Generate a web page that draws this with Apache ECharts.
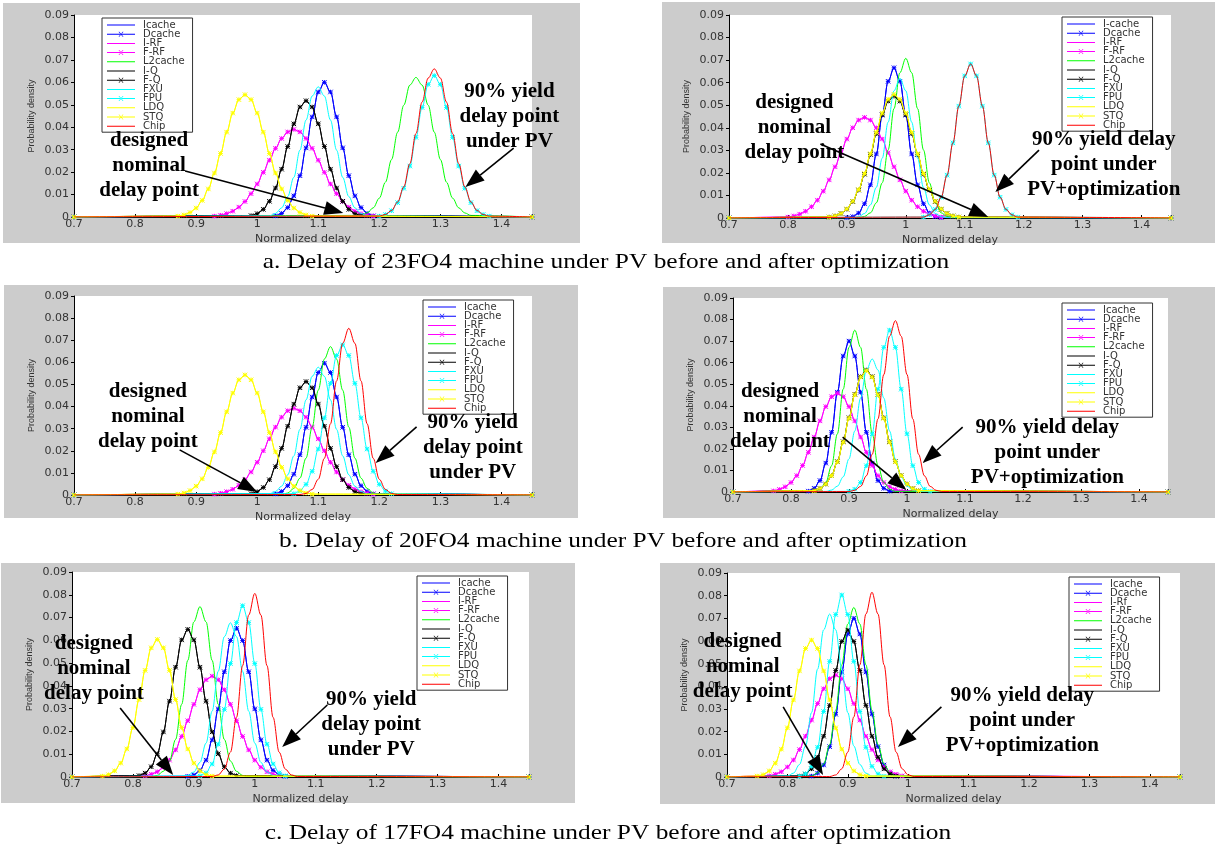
<!DOCTYPE html>
<html><head><meta charset="utf-8">
<script src="https://cdn.jsdelivr.net/npm/echarts@6/dist/echarts.min.js"></script>
<style>html,body{margin:0;padding:0;background:#fff}#c{width:1215px;height:853px}</style>
</head><body><div id="c"></div>
<script>
// ---------------- DATA ----------------
const components = ['Icache','Dcache','I-RF','F-RF','L2cache','I-Q','F-Q','FXU','FPU','LDQ','STQ','Chip'];
const legendA23Before = ['Icache','Dcache','I-RF','F-RF','L2cache','I-Q','F-Q','FXU','FPU','LDQ','STQ','Chip'];
const legendA23After  = ['I-cache','Dcache','I-RF','F-RF','L2cache','I-Q','F-Q','FXU','FPU','LDQ','STQ','Chip'];
const legendB20Before = ['Icache','Dcache','I-RF','F-RF','L2cache','I-Q','F-Q','FXU','FPU','LDQ','STQ','Chip'];
const legendB20After  = ['Icache','Dcache','I-RF','F-RF','L2cache','I-Q','F-Q','FXU','FPU','LDQ','STQ','Chip'];
const legendC17Before = ['Icache','Dcache','I-RF','F-RF','L2cache','I-Q','F-Q','FXU','FPU','LDQ','STQ','Chip'];
const legendC17After  = ['Icache','Dcache','I-Rf','F-RF','L2cache','I-Q','F-Q','FXU','FPU','LDQ','STQ','Chip'];

const delayMin = 0.7, delayMax = 1.45, delayTickStep = 0.1, sampleStep = 0.01;
const densityMax = 0.09, densityTickStep = 0.01;

// first sampled normalized delay of each component curve (same order as components)
const startA23Before = [1.03,1.03,0.93,0.93,1.17,0.99,0.99,1.02,1.20,0.87,0.87,1.20];
const startA23After  = [0.90,0.90,0.80,0.80,0.92,0.87,0.87,0.91,1.03,0.87,0.87,1.03];
const startB20Before = [1.03,1.03,0.93,0.93,1.04,0.99,0.99,1.02,1.06,0.87,0.87,1.07];
const startB20After  = [0.83,0.83,0.77,0.77,0.84,0.84,0.84,0.86,0.90,0.84,0.84,0.90];
const startC17Before = [0.89,0.89,0.82,0.82,0.83,0.81,0.81,0.88,0.91,0.75,0.75,0.93];
const startC17After  = [0.84,0.84,0.77,0.77,0.84,0.82,0.82,0.80,0.82,0.75,0.75,0.87];

// probability density (x 1e-4), sampled every 0.01 of normalized delay
const densA23Before = [
 [5,16,42,94,184,308,446,557,600,557,446,308,184,94,42,16,5],
 [5,16,42,94,184,308,446,557,600,557,446,308,184,94,42,16,5],
 [4,8,15,26,44,69,104,147,199,253,306,350,379,390,379,350,306,253,199,147,104,69,44,26,15,8,4],
 [4,8,15,26,44,69,104,147,199,253,306,350,379,390,379,350,306,253,199,147,104,69,44,26,15,8,4],
 [7,18,41,84,155,256,378,498,588,622,588,498,378,256,155,84,41,18,7],
 [6,15,34,70,129,213,314,415,490,518,490,415,314,213,129,70,34,15,6],
 [6,15,34,70,129,213,314,415,490,518,490,415,314,213,129,70,34,15,6],
 [5,16,41,91,177,298,432,539,580,539,432,298,177,91,41,16,5],
 [4,11,28,64,128,227,355,488,591,630,591,488,355,227,128,64,28,11,4],
 [4,9,20,40,74,125,196,283,378,463,523,545,523,463,378,283,196,125,74,40,20,9,4],
 [4,9,20,40,74,125,196,283,378,463,523,545,523,463,378,283,196,125,74,40,20,9,4],
 [4,11,29,67,134,238,372,512,619,660,619,512,372,238,134,67,29,11,4]
];
const densA23After = [
 [2,6,22,63,147,284,456,606,666,606,456,284,147,63,22,6,2],
 [2,6,22,63,147,284,456,606,666,606,456,284,147,63,22,6,2],
 [4,9,17,30,50,79,119,169,227,289,350,400,434,446,434,400,350,289,227,169,119,79,50,30,17,9,4],
 [4,9,17,30,50,79,119,169,227,289,350,400,434,446,434,400,350,289,227,169,119,79,50,30,17,9,4],
 [2,7,23,67,156,302,485,644,708,644,485,302,156,67,23,7,2],
 [4,9,20,39,73,124,194,281,374,458,518,540,518,458,374,281,194,124,73,39,20,9,4],
 [4,9,20,39,73,124,194,281,374,458,518,540,518,458,374,281,194,124,73,39,20,9,4],
 [1,6,20,58,136,265,425,564,620,564,425,265,136,58,20,6,1],
 [4,14,38,92,190,333,496,630,683,630,496,333,190,92,38,14,4],
 [4,9,20,40,74,126,197,285,380,465,526,548,526,465,380,285,197,126,74,40,20,9,4],
 [4,9,20,40,74,126,197,285,380,465,526,548,526,465,380,285,197,126,74,40,20,9,4],
 [4,14,38,92,190,333,496,630,683,630,496,333,190,92,38,14,4]
];
const densB20Before = [
 [5,16,42,94,182,306,443,554,596,554,443,306,182,94,42,16,5],
 [5,16,42,94,182,306,443,554,596,554,443,306,182,94,42,16,5],
 [4,8,15,26,44,69,104,148,200,254,307,352,381,392,381,352,307,254,200,148,104,69,44,26,15,8,4],
 [4,8,15,26,44,69,104,148,200,254,307,352,381,392,381,352,307,254,200,148,104,69,44,26,15,8,4],
 [3,9,30,76,167,307,474,615,671,615,474,307,167,76,30,9,3],
 [6,15,34,69,128,211,311,411,485,513,485,411,311,211,128,69,34,15,6],
 [6,15,34,69,128,211,311,411,485,513,485,411,311,211,128,69,34,15,6],
 [5,16,40,91,177,297,430,537,578,537,430,297,177,91,40,16,5],
 [6,18,48,107,208,349,505,631,679,631,505,349,208,107,48,18,6],
 [4,9,20,40,73,125,195,282,376,461,521,543,521,461,376,282,195,125,73,40,20,9,4],
 [4,9,20,40,73,125,195,282,376,461,521,543,521,461,376,282,195,125,73,40,20,9,4],
 [2,7,25,71,166,322,516,686,754,686,516,322,166,71,25,7,2]
];
const densB20After = [
 [4,17,53,134,277,463,631,700,631,463,277,134,53,17,4],
 [4,17,53,134,277,463,631,700,631,463,277,134,53,17,4],
 [5,12,24,44,76,123,184,255,330,396,442,458,442,396,330,255,184,123,76,44,24,12,5],
 [5,12,24,44,76,123,184,255,330,396,442,458,442,396,330,255,184,123,76,44,24,12,5],
 [3,13,44,122,270,477,671,751,671,477,270,122,44,13,3],
 [6,16,37,76,141,233,344,453,535,566,535,453,344,233,141,76,37,16,6],
 [6,16,37,76,141,233,344,453,535,566,535,453,344,233,141,76,37,16,6],
 [2,9,27,70,154,283,436,566,617,566,436,283,154,70,27,9,2],
 [3,13,44,122,270,477,671,751,671,477,270,122,44,13,3],
 [6,16,37,76,140,231,342,451,533,563,533,451,342,231,140,76,37,16,6],
 [6,16,37,76,140,231,342,451,533,563,533,451,342,231,140,76,37,16,6],
 [2,8,26,75,175,339,545,723,795,723,545,339,175,75,26,8,2]
];
const densC17Before = [
 [3,9,29,74,163,299,462,599,653,599,462,299,163,74,29,9,3],
 [3,9,29,74,163,299,462,599,653,599,462,299,163,74,29,9,3],
 [5,12,23,43,74,119,178,247,319,383,427,443,427,383,319,247,178,119,74,43,23,12,5],
 [5,12,23,43,74,119,178,247,319,383,427,443,427,383,319,247,178,119,74,43,23,12,5],
 [2,7,25,70,165,319,512,681,748,681,512,319,165,70,25,7,2],
 [6,17,45,102,198,333,482,602,648,602,482,333,198,102,45,17,6],
 [6,17,45,102,198,333,482,602,648,602,482,333,198,102,45,17,6],
 [2,7,22,64,149,289,464,616,677,616,464,289,149,64,22,7,2],
 [5,18,57,144,297,498,678,752,678,498,297,144,57,18,5],
 [4,10,27,61,123,217,340,468,567,604,567,468,340,217,123,61,27,10,4],
 [4,10,27,61,123,217,340,468,567,604,567,468,340,217,123,61,27,10,4],
 [2,9,35,109,262,489,711,806,711,489,262,109,35,9,2]
];
const densC17After = [
 [4,17,53,134,277,463,631,700,631,463,277,134,53,17,4],
 [4,17,53,134,277,463,631,700,631,463,277,134,53,17,4],
 [5,12,23,44,75,121,180,251,324,389,434,450,434,389,324,251,180,121,75,44,23,12,5],
 [5,12,23,44,75,121,180,251,324,389,434,450,434,389,324,251,180,121,75,44,23,12,5],
 [4,18,57,143,295,495,675,748,675,495,295,143,57,18,4],
 [4,13,36,87,180,316,470,598,648,598,470,316,180,87,36,13,4],
 [4,13,36,87,180,316,470,598,648,598,470,316,180,87,36,13,4],
 [4,17,55,137,284,476,649,719,649,476,284,137,55,17,4],
 [3,14,47,131,289,510,717,803,717,510,289,131,47,14,3],
 [4,10,27,61,123,217,340,468,567,604,567,468,340,217,123,61,27,10,4],
 [4,10,27,61,123,217,340,468,567,604,567,468,340,217,123,61,27,10,4],
 [2,9,36,110,265,495,719,815,719,495,265,110,36,9,2]
];

const captions = [
 'a. Delay of 23FO4 machine under PV before and after optimization',
 'b. Delay of 20FO4 machine under PV before and after optimization',
 'c. Delay of 17FO4 machine under PV before and after optimization'
];
const nominalText = 'designed\nnominal\ndelay point';
const yieldTextBefore = '90% yield\ndelay point\nunder PV';
const yieldTextAfter = '90% yield delay\npoint under\nPV+optimization';

// ---------------- STYLE / LAYOUT ----------------
const seriesColor = ['#0000ff','#0000ff','#ff00ff','#ff00ff','#00ff00','#000000','#000000','#00ffff','#00ffff','#ffff00','#ffff00','#ff0000'];
const hasMarker = [false,true,false,true,false,false,true,false,true,false,true,false];
const MARK = 'path://M0,0L10,10M10,0L0,10M5,0L5,10M0,5L10,5';
const ICON_LINE = 'path://M0,0L0.1,0L0,0.1Z M28,8L27.9,8L28,7.9Z M0,3.5L28,3.5L28,4.5L0,4.5Z';
const ICON_MARK = ICON_LINE + ' M11.5,1.5L12.3,1.5L16.5,6.5L15.7,6.5Z M16.5,1.5L15.7,1.5L11.5,6.5L12.3,6.5Z';

const panels = [
 {grid:{left:74,top:15,width:458,height:202}, bg:[3,3,577,240], legend:{left:102,top:18}, names:legendA23Before, start:startA23Before, dens:densA23Before},
 {grid:{left:729,top:15,width:442,height:203}, bg:[662,2,553,241], legend:{left:1062,top:17}, names:legendA23After, start:startA23After, dens:densA23After},
 {grid:{left:74,top:296,width:458,height:199}, bg:[4,285,574,233], legend:{left:423,top:300}, names:legendB20Before, start:startB20Before, dens:densB20Before},
 {grid:{left:733,top:298,width:435,height:194}, bg:[663,287,552,231], legend:{left:1062,top:303}, names:legendB20After, start:startB20After, dens:densB20After},
 {grid:{left:72,top:572,width:457,height:205}, bg:[1,563,574,240], legend:{left:417,top:576}, names:legendC17Before, start:startC17Before, dens:densC17Before},
 {grid:{left:727,top:573,width:453,height:204}, bg:[660,563,555,241], legend:{left:1069,top:577}, names:legendC17After, start:startC17After, dens:densC17After}
];
const captionPos = [[606,262],[623,541],[608,833]];

// annotation placement in data coordinates of each panel: [panel, textX, textY, fromX, fromY, toX, toY]
const nominalNotes = [
 [0,0.823,0.0227,0.882,0.0205,1.141,0.0018],
 [1,0.811,0.0403,0.855,0.0328,1.140,0.0004],
 [2,0.821,0.0353,0.873,0.0204,1.000,0.0014],
 [3,0.781,0.0348,0.889,0.0255,0.999,0.0009],
 [4,0.736,0.0478,0.779,0.0303,0.866,0.0009],
 [5,0.726,0.0485,0.793,0.0309,0.859,0.0009]
];
const yieldNotes = [
 [0,1.413,0.0446,1.420,0.0307,1.341,0.0134],
 [1,1.336,0.0235,1.226,0.0301,1.152,0.0115],
 [2,1.353,0.0213,1.261,0.0308,1.194,0.0145],
 [3,1.242,0.0181,1.096,0.0301,1.027,0.0135],
 [4,1.191,0.0228,1.119,0.0316,1.045,0.0132],
 [5,1.189,0.0247,1.055,0.0309,0.983,0.0132]
];

function curvePoints(start, dens) {
  const pts = [[delayMin, 0]];
  dens.forEach((d, i) => pts.push([Math.round((start + i * sampleStep) * 1000) / 1000, d / 10000]));
  pts.push([delayMax, 0]);
  return pts;
}

const axisFont = {fontFamily:'DejaVu Sans', fontSize:11, color:'#333'};
const option = {animation:false, grid:[], xAxis:[], yAxis:[], legend:[], series:[]};

panels.forEach((p, pi) => {
  option.grid.push(Object.assign({show:true, backgroundColor:'#fff', borderWidth:0, containLabel:false}, p.grid));
  option.xAxis.push({
    gridIndex:pi, type:'value', min:delayMin, max:delayMax, interval:delayTickStep,
    name:'Normalized delay', nameLocation:'middle', nameGap:17,
    nameTextStyle:{fontFamily:'DejaVu Sans', fontSize:11, color:'#333'},
    axisLine:{show:true, onZero:false, lineStyle:{color:'#000', width:1}},
    axisTick:{show:true, inside:true, length:3, lineStyle:{color:'#000'}},
    axisLabel:Object.assign({margin:2, formatter:v => {
      const r = Math.round(v * 10) / 10;
      return Math.abs(v - r) < 1e-6 ? String(r) : '';
    }}, axisFont),
    splitLine:{show:false}
  });
  option.yAxis.push({
    gridIndex:pi, type:'value', min:0, max:densityMax, interval:densityTickStep,
    name:'Probability density', nameLocation:'middle', nameGap:38, nameRotate:90,
    nameTextStyle:{fontFamily:'Liberation Sans', fontSize:9, color:'#333'},
    axisLine:{show:true, lineStyle:{color:'#000', width:1}},
    axisTick:{show:true, length:3, lineStyle:{color:'#000'}},
    axisLabel:Object.assign({margin:5, formatter:v => v === 0 ? '0' : v.toFixed(2)}, axisFont),
    splitLine:{show:false}
  });
  option.legend.push({
    orient:'vertical', left:p.legend.left, top:p.legend.top,
    data:p.names.map((n, ci) => ({name:n, icon:hasMarker[ci] ? ICON_MARK : ICON_LINE})),
    itemWidth:28, itemHeight:8, itemGap:-0.8, padding:[2,8,1,5],
    itemStyle:{borderWidth:0},
    borderColor:'#333', borderWidth:1, backgroundColor:'#fff', selectedMode:false,
    textStyle:{fontFamily:'DejaVu Sans', fontSize:10, color:'#333', lineHeight:8, padding:[0,0,0,3]}
  });
  components.forEach((c, ci) => {
    const col = seriesColor[ci];
    option.series.push({
      type:'line', name:p.names[ci], xAxisIndex:pi, yAxisIndex:pi,
      data:curvePoints(p.start[ci], p.dens[ci]),
      smooth:0.35, smoothMonotone:'x',
      symbol:hasMarker[ci] ? MARK : 'none', symbolSize:4.5, showSymbol:hasMarker[ci],
      lineStyle:{color:col, width:1},
      itemStyle:{color:col, borderColor:col, borderWidth:1},
      emphasis:{disabled:true}, silent:true, z:2 + ci / 20
    });
  });
});

const chart = echarts.init(document.getElementById('c'));
chart.setOption(option);

// ---------------- GRAPHICS (backgrounds, captions, annotations) ----------------
const gfx = [];
panels.forEach(p => gfx.push({type:'rect', z:-10, shape:{x:p.bg[0], y:p.bg[1], width:p.bg[2], height:p.bg[3]}, style:{fill:'#cccccc'}}));
captions.forEach((t, i) => gfx.push({type:'text', x:captionPos[i][0], y:captionPos[i][1], scaleX:1.21, z:50,
  style:{text:t, font:'21px "Liberation Serif"', fill:'#000', align:'center', verticalAlign:'middle', textAlign:'center', textVerticalAlign:'middle'}}));

function addNote(n, text) {
  const [pi, tx, ty, fx, fy, ax, ay] = n;
  const t = chart.convertToPixel({gridIndex:pi}, [tx, ty]);
  const a = chart.convertToPixel({gridIndex:pi}, [fx, fy]);
  const b = chart.convertToPixel({gridIndex:pi}, [ax, ay]);
  gfx.push({type:'text', x:t[0], y:t[1], z:60,
    style:{text:text, font:'bold 21px "Liberation Serif"', fill:'#000', align:'center', verticalAlign:'middle', textAlign:'center', textVerticalAlign:'middle', lineHeight:25}});
  const dx = b[0] - a[0], dy = b[1] - a[1], len = Math.hypot(dx, dy);
  const ux = dx / len, uy = dy / len, L = 19, W = 7;
  const bx = b[0] - ux * L, by = b[1] - uy * L;
  gfx.push({type:'line', z:60, shape:{x1:a[0], y1:a[1], x2:bx, y2:by}, style:{stroke:'#000', lineWidth:1.6}});
  gfx.push({type:'polygon', z:60, shape:{points:[[b[0], b[1]], [bx - uy * W, by + ux * W], [bx + uy * W, by - ux * W]]}, style:{fill:'#000'}});
}
nominalNotes.forEach(n => addNote(n, nominalText));
yieldNotes.forEach((n, i) => addNote(n, i % 2 === 0 ? yieldTextBefore : yieldTextAfter));
chart.setOption({graphic:gfx});
</script></body></html>
